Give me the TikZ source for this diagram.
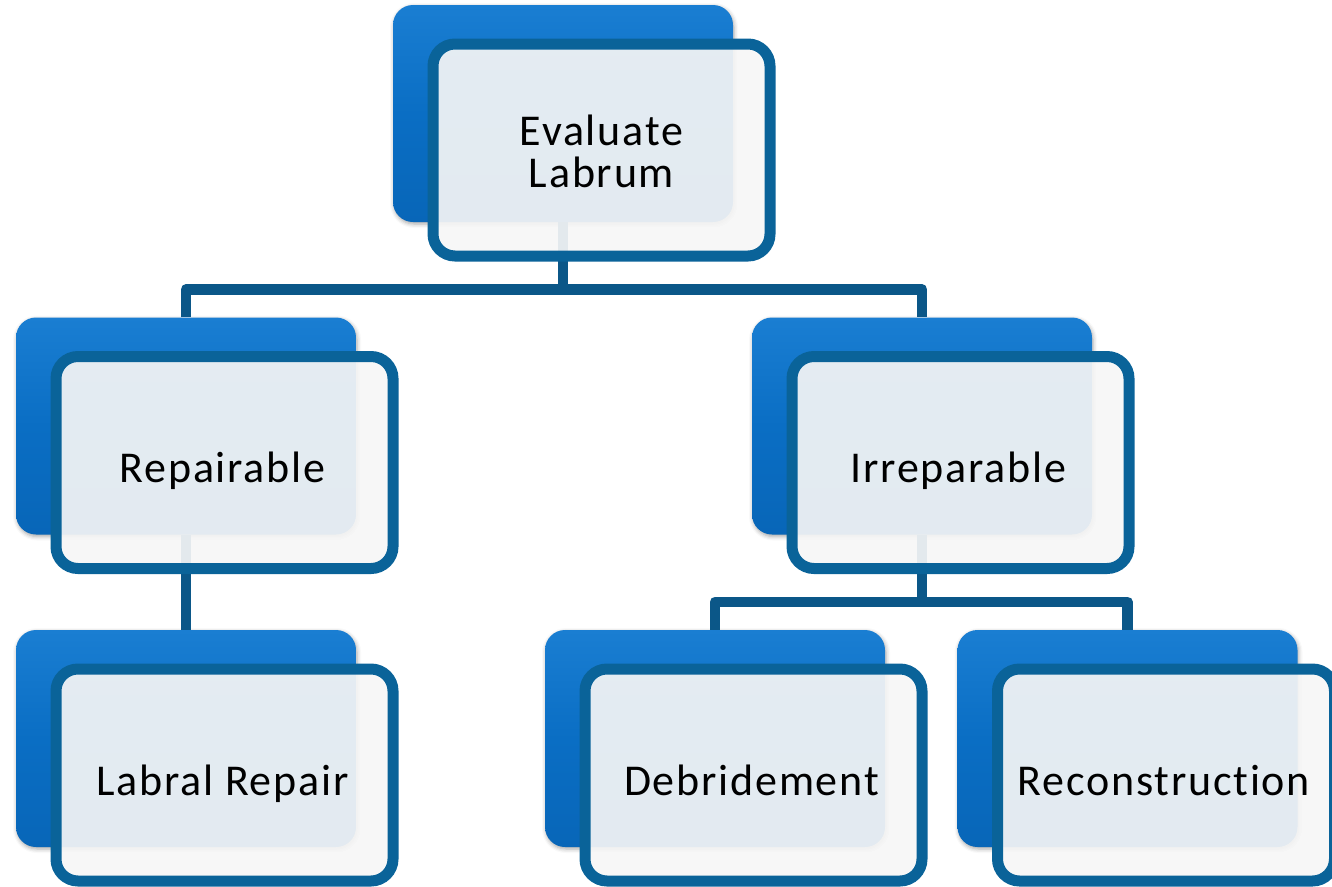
\documentclass[tikz,border=0pt]{standalone}
\usepackage{fontspec}
\setmainfont{Carlito}[Ligatures=NoCommon]
\usetikzlibrary{shadows.blur,calc}

\definecolor{backmid}{HTML}{0A6EC4}
\definecolor{backtop}{HTML}{1A7ED2}
\definecolor{backbot}{HTML}{0866B8}
\definecolor{rimblue}{HTML}{0A6399}
\definecolor{wireblue}{HTML}{0B5788}
\definecolor{cardfill}{HTML}{F6F6F6}

\tikzset{
  backcard/.style={rectangle, rounded corners=20pt, minimum width=340pt,
    minimum height=217pt, inner sep=0pt, top color=backtop,
    bottom color=backbot, middle color=backmid,
    blur shadow={shadow xshift=1pt, shadow yshift=-2pt,
      shadow blur radius=4pt, shadow opacity=35}},
  frontcard/.style={rectangle, rounded corners=22pt, minimum width=337pt,
    minimum height=212pt, inner sep=0pt, draw=rimblue, line width=11pt,
    fill=cardfill, fill opacity=0.92, draw opacity=1},
  cardtext/.style={font=\fontsize{44}{42}\selectfont\addfontfeatures{LetterSpace=4},
    text=black, inner sep=0pt, anchor=base, align=center},
  wirestyle/.style={draw=wireblue, line width=10.5pt, line join=round},
}

\begin{document}
\begin{tikzpicture}[x=1pt, y=-1pt]
  \useasboundingbox (0,0) rectangle (1332,886);

  % back cards
  \node[backcard] (top) at (563,113.5) {};
  \node[backcard] (rep) at (186,426) {};
  \node[backcard] (irr) at (922,426) {};
  \node[backcard] (lab) at (186,738.5) {};
  \node[backcard] (deb) at (715,738.5) {};
  \node[backcard] (rec) at (1127.5,738.5) {};

  % connectors
  \path (rep.north) ++(0,-28) coordinate (busA);
  \draw[wirestyle] (rep.north) -- (busA) -| (irr.north);
  \draw[wirestyle] (top.south) -- (top.south |- busA);
  \draw[wirestyle] (rep.south) -- (lab.north);
  \path (deb.north) ++(0,-28) coordinate (busB);
  \draw[wirestyle] (deb.north) -- (busB) -| (rec.north);
  \draw[wirestyle] (irr.south) -- (irr.south |- busB);

  % front cards
  \node[frontcard] (ftop) at ($(top.center)+(38.5,36.5)$) {};
  \node[frontcard] (frep) at ($(rep.center)+(38.5,36.5)$) {};
  \node[frontcard] (firr) at ($(irr.center)+(38.5,36.5)$) {};
  \node[frontcard] (flab) at ($(lab.center)+(38.5,36.5)$) {};
  \node[frontcard] (fdeb) at ($(deb.center)+(38.5,36.5)$) {};
  \node[frontcard] (frec) at ($(rec.center)+(38.5,36.5)$) {};

  % labels
  \node[cardtext] (ttop) at ($(ftop.center)+(0,37)$) {Evaluate\\Labrum};
  \node[cardtext] (trep) at ($(frep.center)+(-2,20)$) {Repairable};
  \node[cardtext] (tirr) at ($(firr.center)+(-2,20)$) {Irreparable};
  \node[cardtext] (tlab) at ($(flab.center)+(-2,20)$) {Labral Repair};
  \node[cardtext] (tdeb) at ($(fdeb.center)+(-2,20)$) {Debridement};
  \node[cardtext] (trec) at ($(frec.center)+(-2,20)$) {Reconstruction};
\end{tikzpicture}
\end{document}
